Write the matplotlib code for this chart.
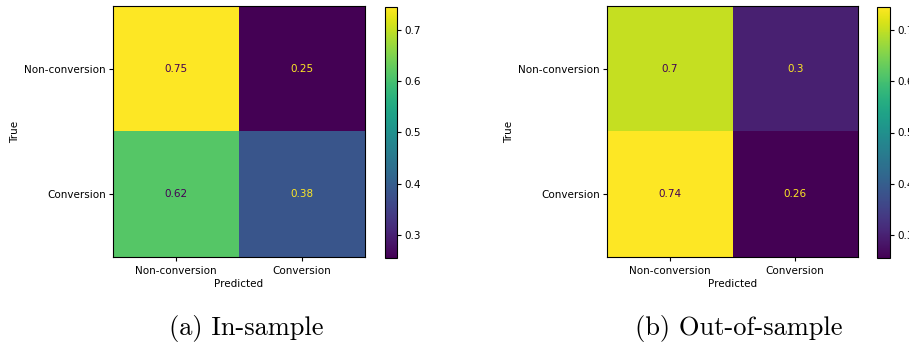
import numpy as np
import matplotlib
matplotlib.use("Agg")
import matplotlib.pyplot as plt

# Row-normalised confusion matrices
class_labels = ["Non-conversion", "Conversion"]
in_sample = [[0.746, 0.254],
             [0.617, 0.383]]
out_sample = [[0.702, 0.298],
              [0.744, 0.256]]
captions = ["(a) In-sample", "(b) Out-of-sample"]
cbar_ticks = [0.3, 0.4, 0.5, 0.6, 0.7]

W, H = 909, 343
fig = plt.figure(figsize=(W / 100, H / 100), dpi=100)
cmap = plt.get_cmap("viridis")
fs = 7.5


def px(x0, y_top, w, h):
    return [x0 / W, (H - y_top - h) / H, w / W, h / H]


def draw_cm(ax, cax, cm):
    cm = np.asarray(cm)
    im = ax.imshow(cm, cmap=cmap, interpolation="nearest", aspect="auto")
    vmin, vmax = cm.min(), cm.max()
    thresh = (vmin + vmax) / 2
    for i in range(cm.shape[0]):
        for j in range(cm.shape[1]):
            color = cmap(0.0) if cm[i, j] >= thresh else cmap(1.0)
            ax.text(j, i, format(cm[i, j], ".2g"), ha="center", va="center",
                    color=color, fontsize=fs)
    ax.set_xticks(range(len(class_labels)))
    ax.set_yticks(range(len(class_labels)))
    ax.set_xticklabels(class_labels, fontsize=fs)
    ax.set_yticklabels(class_labels, fontsize=fs)
    ax.set_xlabel("Predicted", fontsize=fs, labelpad=2)
    ax.set_ylabel("True", fontsize=fs, labelpad=3)
    ax.tick_params(axis="x", length=3, pad=3.5)
    ax.tick_params(axis="y", length=3, pad=2)
    cb = fig.colorbar(im, cax=cax, ticks=cbar_ticks)
    cb.ax.tick_params(labelsize=fs, length=3, pad=2)
    cb.outline.set_linewidth(0.8)


ax1 = fig.add_axes(px(113, 6, 252, 251))
cax1 = fig.add_axes(px(385, 7, 12, 251))
draw_cm(ax1, cax1, in_sample)

ax2 = fig.add_axes(px(607, 6, 251, 251))
cax2 = fig.add_axes(px(877, 7, 13, 251))
draw_cm(ax2, cax2, out_sample)

for cx, text in zip([246, 739], captions):
    fig.text(cx / W, 1 - 328.5 / H, text, ha="center", va="center",
             fontsize=19, family="cmr10")

fig.savefig("out.png", dpi=100)
